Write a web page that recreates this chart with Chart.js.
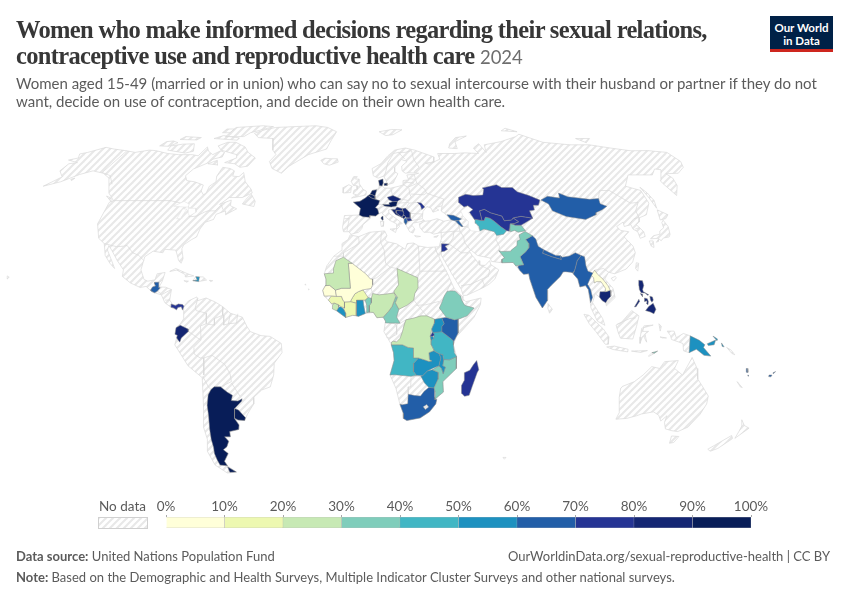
<!DOCTYPE html>
<html>
<head>
<meta charset="utf-8">
<script src="https://cdn.jsdelivr.net/npm/chart.js@4/dist/chart.umd.min.js"></script>
<style>
  html, body { margin: 0; padding: 0; background: #fff; }
  #page { position: relative; width: 850px; height: 600px; overflow: hidden; font-family: Lato, sans-serif; color: #5b5b5b; }
  #page > div { position: absolute; white-space: nowrap; }
  #map { position: absolute; left: 0; top: 0; }
  #legend { position: absolute; left: 146px; top: 490px; }
  .title { left: 16px; font: bold 24.5px "Liberation Serif", serif; letter-spacing: -0.67px; color: #373737; line-height: 28px; }
  .title span { font: 18.5px Lato, sans-serif; letter-spacing: 0; color: #6e6e6e; }
  .sub { left: 16px; font-size: 15px; line-height: 18px; color: #5b5b5b; }
  .foot { font-size: 13px; line-height: 16px; color: #5b5b5b; }
  #logo { left: 770px; top: 16px; width: 63px; height: 36px; background: #002147; border-bottom: 3px solid #ce261e; box-sizing: border-box; color: #fff; font-weight: bold; font-size: 11.5px; line-height: 13px; text-align: center; padding-top: 5px; }
  #noDataBox { left: 98px; top: 517px; width: 48px; height: 10px; border: 1px solid #d0d0d0; }
</style>
</head>
<body>
<div id="page">
  <canvas id="map" width="850" height="600"></canvas>
  <canvas id="legend" width="629" height="38"></canvas>
  <div class="title" style="top:16px">Women who make informed decisions regarding their sexual relations,</div>
  <div class="title" style="top:42px">contraceptive use and reproductive health care <span>2024</span></div>
  <div class="sub" style="top:74px">Women aged 15-49 (married or in union) who can say no to sexual intercourse with their husband or partner if they do not</div>
  <div class="sub" style="top:92px">want, decide on use of contraception, and decide on their own health care.</div>
  <div id="logo">Our World<br>in Data</div>
  <div class="foot" style="left:99px;top:498px;font-size:13.5px">No data</div>
  <div id="noDataBox"></div>
  <div class="foot" style="left:16px;top:548px"><b>Data source:</b> United Nations Population Fund</div>
  <div class="foot" style="right:20px;top:548px">OurWorldinData.org/sexual-reproductive-health | CC BY</div>
  <div class="foot" style="left:16px;top:569px"><b>Note:</b> Based on the Demographic and Health Surveys, Multiple Indicator Cluster Surveys and other national surveys.</div>
</div>
<script>
// colour scale
const binEdges = [0, 10, 20, 30, 40, 50, 60, 70, 80, 90, 100];
const binColors = ["#ffffd9", "#edf8b1", "#c7e9b4", "#7fcdbb", "#41b6c4", "#1d91c0", "#225ea8", "#253494", "#142673", "#081d58"];

// countries with a value
const countries = ["France", "Netherlands", "Belgium", "Denmark", "Czechia", "Austria", "Croatia", "Bosnia", "Serbia", "Montenegro", "Albania", "North Macedonia", "Moldova", "Georgia", "Armenia", "Jordan",
  "Kazakhstan", "Uzbekistan", "Kyrgyzstan", "Tajikistan", "Turkmenistan", "Pakistan", "India", "Nepal", "Bangladesh", "Myanmar", "Laos", "Cambodia", "Mongolia", "Philippines", "Papua New Guinea", "Timor-Leste", "Vanuatu", "Fiji",
  "Guatemala", "Panama", "Haiti", "Ecuador", "Argentina", "Uruguay",
  "Mauritania", "Mali", "Senegal", "Guinea", "Sierra Leone", "Liberia", "Cote d'Ivoire", "Burkina Faso", "Ghana", "Benin", "Nigeria", "Chad", "Cameroon", "Ethiopia", "Kenya", "Uganda", "Rwanda", "Burundi", "Tanzania", "DR Congo", "Angola", "Zambia", "Malawi", "Mozambique", "Zimbabwe", "South Africa", "Eswatini", "Madagascar"];
const shares = [95, 95, 95, 95, 88, 92, 85, 85, 85, 85, 65, 75, 75, 65, 65, 75,
  75, 75, 75, 35, 45, 35, 65, 65, 65, 65, 5, 85, 65, 85, 55, 35, 65, 65,
  65, 75, 55, 85, 95, 95,
  25, 5, 5, 15, 25, 55, 15, 15, 55, 35, 25, 25, 35, 35, 65, 55, 75, 55, 45, 25, 45, 55, 55, 35, 55, 65, 85, 75];

// outlines as [lon, lat] rings
const outlines = {
  "France": [[[-1.8,43.4],[-1.2,46],[-4.7,48.4],[-1.5,48.7],[1.5,50.2],[2.5,51],[4.2,50],[6,49.5],[8.2,49],[7.6,47.6],[6,46.3],[7,45.8],[7.6,44],[6,43],[3.2,43.2],[3.2,42.5],[0,42.7]], [[8.6,42.5],[9.5,43],[9.5,41.5],[9.2,41.4],[8.7,41.9]]],
  "Netherlands": [[[3.5,51.4],[4.7,53],[7,53.3],[6,50.8],[4.5,51.4]]],
  "Belgium": [[[2.5,51],[3.5,51.4],[4.5,51.4],[6,50.8],[6,49.5],[4.2,50]]],
  "Denmark": [[[8.2,57],[10.5,57.6],[10.5,56],[9.8,54.8],[8.5,55]], [[11,55.8],[12.5,56],[12.5,55],[11,55]]],
  "Czechia": [[[12.1,50.3],[15,51],[18.8,49.6],[17,48.7],[14.7,48.6],[12.8,49.3]]],
  "Austria": [[[9.6,47.5],[13,47.5],[12.8,48.2],[14.7,48.6],[17,48.7],[16.2,46.9],[13.7,46.5],[10.5,46.9]]],
  "Croatia": [[[13.7,45.5],[15.5,45.5],[16.5,46.5],[19,45.8],[19,45],[16,45.2],[15.8,44.2],[18.5,42.5],[15.5,43.6],[14.2,45]]],
  "Bosnia": [[[16,45.2],[19,45],[19.5,44],[18.5,42.5],[15.8,44.2]]],
  "Serbia": [[[19,45.8],[20.5,46.1],[22.5,44.3],[22.4,43],[22.4,42.3],[20.6,42.4],[19.5,43.5],[19.3,44.8]]],
  "Montenegro": [[[18.5,42.5],[19.5,43.5],[20.3,42.8],[19.3,42]]],
  "Albania": [[[19.4,41.8],[20.5,42.4],[20.8,40.8],[20,39.7],[19.4,40.5]]],
  "North Macedonia": [[[20.5,42.2],[22.4,42.3],[23,41.3],[20.9,41]]],
  "Moldova": [[[26.7,48.3],[28.5,48.1],[30,46.5],[28.3,45.5],[28,47]]],
  "Georgia": [[[40,43.5],[43,43.3],[46.5,41.9],[45,41.3],[43,41.2],[41.5,41.6]]],
  "Armenia": [[[43.5,41.1],[45,41.3],[46.5,39],[46,38.9],[44.8,39.7]]],
  "Jordan": [[[35,29.4],[35.5,32.4],[39,32.3],[37,31.5],[38,30.3],[36.5,29.6]]],
  "Kazakhstan": [[[46.7,48.5],[47.5,50.3],[51.5,51.5],[55,51],[60,51.2],[61.5,53.5],[61,54],[69,55.3],[71,54.2],[76.5,54.2],[78,52.5],[83,51],[87.3,49.2],[85.5,47.2],[83,47.2],[82.5,45.3],[80,45],[80.3,42.2],[75,42.9],[71,42.3],[70,41.5],[66.5,41.2],[66,43],[61,44.3],[58.5,45.6],[56,45],[56,41.3],[52.5,41.8],[51,44.5],[53,45.5],[51,47],[49,46.5]]],
  "Uzbekistan": [[[56,41.3],[56,45],[58.5,45.6],[61,44.3],[66,43],[66.5,41.2],[70,41.5],[71,42.3],[73,40.8],[71,40.2],[68.7,40],[68,38.2],[67.5,37.2],[66.3,37.4],[64,39],[61.5,41.2],[60,42.2],[58,42.6],[57,41.3]]],
  "Kyrgyzstan": [[[69.5,40],[71,40.2],[73,40.8],[71,42.3],[75,42.9],[80.3,42.2],[76,40.4],[73.7,39.5],[71,39.5]]],
  "Tajikistan": [[[68,38.2],[68.7,40],[71,40.2],[69.5,40],[71,39.5],[73.7,39.5],[75,37.4],[71.5,36.8],[70,37.5],[68,37]]],
  "Turkmenistan": [[[52.8,41.5],[53,42],[52.5,41.8],[56,41.3],[57,41.3],[58,42.6],[60,42.2],[61.5,41.2],[64,39],[66.3,37.4],[64.5,36],[61.2,35.6],[60.5,37],[56,38],[54,37.3],[53.9,39],[52.8,40.2]]],
  "Pakistan": [[[61.5,25.2],[66.5,25.3],[67.5,24],[69,24.2],[71,24.4],[70,27.5],[73,29.5],[74.7,31],[75,32.5],[74,34],[77.5,35.5],[74.8,37.1],[71.5,35.8],[71.5,34],[70,33.5],[69.5,31.7],[66.5,30],[66.3,29.6],[62,29.5],[60.9,29.8],[63,27],[61.7,26.5]]],
  "India": [[[69,22.3],[70.5,20.8],[72.8,21],[73,19],[75,12],[77.5,8],[80,11],[80.2,15],[82,16.5],[86.5,20],[88,21.7],[89,21.8],[92,21.5],[93,22],[94,24],[95,26],[97.3,28],[95,29],[92,27.8],[88.8,27.3],[88.1,27.9],[88.1,26.4],[84,27.5],[80.3,28.8],[81,30.2],[79,31.5],[78.7,34.2],[77.5,35.5],[74,34],[75,32.5],[74.7,31],[73,29.5],[70,27.5],[71,24.4],[69,24.2],[68.3,23.6]]],
  "Nepal": [[[80.3,28.8],[84,27.5],[88.1,26.4],[88.1,27.9],[86,28],[83,29.3],[81,30.2]]],
  "Bangladesh": [[[88.2,24.5],[89,22],[90.5,22.3],[92,21.5],[92.5,21],[92.3,24],[92,25],[89.8,25.3],[88.2,25.5]]],
  "Myanmar": [[[92.3,21],[94,19],[94.5,16],[97,16.5],[98,15],[98.5,10],[99.5,12],[99,15],[98,17],[100,20],[101,21.3],[99,22],[98.5,24],[98.7,27.5],[97.3,28],[95,26],[94,24],[93,22]]],
  "Laos": [[[100,20.5],[101,21.3],[102,22.4],[103,20.8],[105,19],[106.8,16.5],[107.5,14.7],[105.5,14.2],[105.5,15.5],[104,18],[102,18],[101,17.5],[101,19.5]]],
  "Cambodia": [[[102.5,12.2],[103,14.2],[105.5,14.2],[107.5,14.7],[107.5,12.5],[105.8,11],[105,10],[103.5,10.8]]],
  "Mongolia": [[[87.8,49.2],[92,50.7],[97.5,50],[98.5,52],[102,50.5],[107,50],[112,49.5],[116.7,49.8],[116,47.8],[118.5,46.8],[115.5,45.5],[111.5,44.3],[111,43.5],[105,41.7],[96.5,42.8],[91,45],[90.7,47.7]]],
  "Philippines": [[[120.3,16.5],[120.6,18.5],[122.2,18.4],[122.4,16.5],[121.6,15],[121.8,14.2],[124,13],[123.5,12.8],[122.5,13.7],[120.8,13.8],[120.2,15]], [[124.4,12.5],[125.5,12.2],[125.7,11],[125,10.2],[124.5,11]], [[122,11.8],[123.2,11.5],[123.5,10.5],[123.2,9.2],[122.5,9.8],[122.9,10.7],[122,10.5]], [[120.4,13.5],[121.4,13.2],[121.2,12.3]], [[122,7],[123.5,8.6],[125.5,9.8],[126.5,7.5],[125.5,5.8],[124,6.5]], [[117.3,8.4],[119.5,11.3],[119.7,10.5],[118,8.5]]],
  "Papua New Guinea": [[[141,-2.6],[145,-4.3],[147.5,-6],[147,-7],[150.5,-10.3],[147.5,-10],[144,-7.7],[141,-9]], [[148.5,-5.6],[152,-4.2],[151.5,-6],[149,-6.3]], [[150.8,-2.7],[152.8,-3.8],[152.6,-4.5]], [[154.6,-5.3],[155.9,-6.8],[155,-6.6]]],
  "Timor-Leste": [[[124.9,-9],[127.3,-8.4],[126,-9.2]]],
  "Vanuatu": [[[166.7,-15],[167.2,-15],[167.8,-16.5],[167,-16.4]], [[168,-17.5],[168.6,-17.7],[168.3,-18]]],
  "Fiji": [[[177.3,-17.5],[178.6,-17.5],[178.3,-18.2],[177.3,-18.1]], [[178.8,-16.6],[179.8,-16.2],[179,-17]]],
  "Guatemala": [[[-92.2,14.5],[-90.5,13.8],[-89.4,14.4],[-88.3,15.7],[-89.2,15.9],[-89.2,17.8],[-91,17.8],[-91,17.2],[-90.4,16.4],[-91.7,16],[-92.2,15]]],
  "Panama": [[[-83,8.3],[-82.9,9.5],[-81,8.9],[-79.8,9.5],[-78,9.3],[-77.4,8.7],[-77.9,7.2],[-78.5,8.5],[-80,8.2],[-80.5,7.3],[-81.7,8]]],
  "Haiti": [[[-74.4,18.4],[-71.8,18.1],[-71.7,19.8],[-73.3,19.9],[-72.7,19],[-72.5,18.6]]],
  "Ecuador": [[[-78.7,1.4],[-75.3,0],[-75.2,-0.9],[-78.3,-3.4],[-79,-5],[-80.3,-3.4],[-80,-2.4],[-81,-2],[-80.5,0.5]]],
  "Argentina": [[[-67,-23],[-65.5,-22],[-62.7,-22],[-60,-24],[-57.8,-25.2],[-58.6,-27.2],[-55.7,-27.4],[-53.7,-26.5],[-54,-27.4],[-57.6,-30.2],[-58.2,-32.4],[-58.4,-34],[-57,-36.5],[-57.6,-38.2],[-62,-39],[-62.3,-41],[-65,-41],[-63.7,-42.7],[-65.3,-44.8],[-67.5,-46],[-65.8,-47.5],[-69,-50.5],[-68.4,-52.3],[-72,-52],[-72.3,-50],[-72.5,-47.5],[-71.8,-45],[-71.7,-42],[-71,-38],[-70,-33],[-69.7,-29],[-68.5,-25]], [[-68.6,-52.7],[-65.2,-54.8],[-68.6,-54.9]]],
  "Uruguay": [[[-58.4,-33.9],[-58.2,-32.4],[-57.6,-30.2],[-56,-30.8],[-53.4,-33.7],[-54,-34.8],[-57,-34.6]]],
  "Mauritania": [[[-17,21],[-13,21.3],[-13,23],[-12,26],[-8.7,27.3],[-4.8,25],[-6.5,25],[-5.5,15.5],[-9.3,15.5],[-12,14.8],[-14.5,16.6],[-16.4,16.5],[-16.2,19]]],
  "Mali": [[[-5.5,15.5],[-6.5,25],[-4.8,25],[1.2,21],[3.3,19],[4.2,19],[4.2,16.8],[3.5,15.4],[0,14.9],[-2,14.2],[-3.5,13.4],[-4.5,12],[-5.5,10.4],[-8,10.3],[-8.7,11],[-9.3,12.4],[-11.5,12.4],[-12,14.8],[-9.3,15.5]]],
  "Senegal": [[[-17.5,14.7],[-16.4,16.5],[-14.5,16.6],[-12,14.8],[-11.5,12.4],[-13.7,12.6],[-16.8,12.5]]],
  "Guinea": [[[-15,11],[-13.7,12.6],[-11.5,12.4],[-9.3,12.4],[-8.7,11],[-8,10.3],[-8,8],[-9.5,8.5],[-10.7,9.3],[-12.5,9.9],[-13.5,9.5]]],
  "Sierra Leone": [[[-13.2,8.9],[-12.5,9.9],[-10.7,9.3],[-10.5,8.3],[-11.4,6.9],[-13,7.6]]],
  "Liberia": [[[-11.4,6.9],[-10.5,8.3],[-9.5,8.5],[-8.4,7.6],[-7.5,6],[-7.5,4.4]]],
  "Cote d'Ivoire": [[[-7.5,4.4],[-7.5,6],[-8.4,7.6],[-8,8],[-8,10.3],[-5.5,10.4],[-2.8,9.8],[-2.8,5.2],[-3,5.1],[-4.5,5.2]]],
  "Burkina Faso": [[[-5.5,10.4],[-4.5,12],[-3.5,13.4],[-2,14.2],[0,14.9],[2.2,12],[0.9,11],[-2.8,11],[-2.8,9.8]]],
  "Ghana": [[[-3,5.1],[-2.8,9.8],[-2.8,11],[0,11],[0.5,8],[1,5.9],[-2,4.8]]],
  "Benin": [[[0.9,11],[2.2,12],[3.6,11.7],[3.6,10],[2.8,9],[2.7,6.4],[1.6,6.2],[1.6,9]]],
  "Nigeria": [[[2.7,6.4],[2.8,9],[3.6,10],[3.6,11.7],[4.2,13.5],[7,13],[10,13.3],[13.6,13.7],[14.2,12.3],[12.5,8.5],[11,6.7],[8.7,4.5],[6,4.3],[4.5,6.3]]],
  "Chad": [[[15,23],[24,19.5],[24,15.7],[22.5,13.5],[22,11],[19,9],[15.5,7.5],[14,10],[15,12],[13.6,13.7],[13.5,14.5],[15.5,16.8]]],
  "Cameroon": [[[8.7,4.5],[11,6.7],[12.5,8.5],[14.2,12.3],[15,12],[14,10],[15.5,7.5],[14.5,4.5],[16,2.2],[9.8,2.3],[9.7,3]]],
  "Ethiopia": [[[36.5,14.3],[38,14.5],[40,14.5],[42.4,12.5],[42.7,11],[44,9],[48,8],[44.9,5],[42,4],[39.5,3.5],[36,4.4],[35,5.5],[33,8],[34.3,10.5],[35.2,12.5]]],
  "Kenya": [[[34,4.2],[36,4.4],[39.5,3.5],[41,3.9],[41,-1.5],[39.2,-4.7],[37.7,-3.5],[34,-1],[34,1],[35,2]]],
  "Uganda": [[[30,-1.4],[34,-1],[34,1],[35,2],[34,4.2],[31,3.7],[30.8,2.3],[29.6,0]]],
  "Rwanda": [[[29,-2.7],[30,-1.1],[30.8,-2.3],[29.9,-2.8]]],
  "Burundi": [[[29,-2.7],[29.9,-2.8],[30.7,-3.4],[29.4,-4.4]]],
  "Tanzania": [[[30,-1.2],[34,-1],[37.7,-3.5],[39.2,-4.7],[39,-6],[39.5,-9],[40.5,-10.5],[37.5,-11.7],[35,-11.6],[34.5,-9.7],[32.9,-9.4],[31,-8.5],[29.5,-6],[29.4,-4.4],[30.7,-3.4]]],
  "DR Congo": [[[12.2,-6],[12.3,-5],[13.1,-4.6],[14.5,-4.9],[16,-3.5],[17,-1],[17.7,1.5],[18.5,3.5],[22,4.2],[25,5],[27.5,5],[31,3.7],[30.8,2.3],[29.6,0],[29,-2.7],[29.4,-4.4],[29.5,-6],[30.7,-8.2],[28.5,-9],[28.8,-11.6],[29.8,-12.2],[28.5,-12.3],[26.9,-11.8],[24,-11],[22,-11],[21.8,-7.2],[19.5,-7],[17,-6]]],
  "Angola": [[[11.8,-17.5],[13.5,-12],[13.2,-9],[12.2,-6],[17,-6],[19.5,-7],[21.8,-7.2],[22,-11],[24,-11],[22,-13],[22,-16.2],[23.3,-17.6],[20.8,-18],[14,-17.4]]],
  "Zambia": [[[22,-13],[24,-11],[26.9,-11.8],[28.5,-12.3],[29.8,-12.2],[28.8,-11.6],[28.5,-9],[30.7,-8.2],[31,-8.5],[32.9,-9.4],[33.7,-11],[33.3,-12.5],[33,-14],[30.2,-15],[28,-16],[26,-17.8],[23.3,-17.6],[22,-16.2]]],
  "Malawi": [[[32.9,-9.4],[34.5,-9.7],[35,-11.6],[34.6,-14],[35.8,-14.5],[35,-17],[34.2,-15],[33,-14],[33.3,-12.5],[33.7,-11]]],
  "Mozambique": [[[40.5,-10.5],[40.6,-15],[35,-20],[35.5,-24],[32.8,-26],[32,-26.8],[32,-24.2],[31.3,-22.4],[32.9,-19],[32.9,-16.5],[30.2,-15.5],[33,-14],[34.2,-15],[35,-17],[35.8,-14.5],[34.6,-14],[35,-11.6],[37.5,-11.7]]],
  "Zimbabwe": [[[26,-17.8],[28,-16],[30.2,-15.5],[32.9,-16.5],[32.9,-19],[31.3,-22.4],[29,-22.2],[27,-20.5],[25.3,-18]]],
  "South Africa": [[[16.5,-28.6],[18.2,-32],[18.4,-34],[20,-34.8],[26,-33.8],[30,-31.5],[32.5,-28.5],[32.8,-26.8],[32,-26.8],[31.9,-25.5],[31.3,-22.4],[29,-22.2],[27,-23.7],[25.5,-25.5],[23,-25.3],[20,-24.8],[20,-28.4],[17.5,-28.8]]],
  "Eswatini": [[[31,-26],[32,-26],[32.1,-27],[31,-27.2]]],
  "Madagascar": [[[49.3,-12],[50.4,-15.5],[49.8,-16.5],[48,-22],[47,-25.2],[45,-25.6],[43.7,-24.5],[43.3,-21.5],[44.4,-19.5],[44.2,-16.6],[46.5,-15.7],[48,-13.5]]]
};

// land without data, hatched
const noDataLand = [
  // north america
  [[-168,65.6],[-164,66.5],[-166.5,68.3],[-163,69],[-156.5,71.3],[-150,70.5],[-141,69.7],[-135,69],[-128,70],[-124,69.8],[-115,68.5],[-108,68],[-100,68],[-96,67.5],[-95,71.5],[-92,69.5],[-88,68],[-85,69.7],[-82,69],[-81.5,67],[-86,66],[-87,64.5],[-93,61.8],[-94.8,59],[-92.5,57],[-88,56.5],[-82.5,55.2],[-82,52.8],[-80,51.3],[-79,52],[-79,54.7],[-76.8,56.5],[-78,58.8],[-77.5,62.5],[-73,62],[-70,61],[-69.5,58.8],[-66,58.6],[-64.5,60.3],[-61.5,56.5],[-57,53.5],[-55.8,52],[-60,50.2],[-66.5,50.2],[-70,47.5],[-65,49.2],[-64.5,47],[-61,45.8],[-65.5,43.5],[-66,45],[-70,43.7],[-70.5,41.7],[-74,40.6],[-75.5,38],[-76,35],[-78,34],[-81,32],[-81.4,30.5],[-80,26.8],[-80.5,25],[-81.8,26],[-82.8,28],[-84,30],[-89,30.3],[-89.5,29],[-94,29.6],[-97.2,27.5],[-97.8,22.5],[-95.8,18.8],[-94,18.2],[-91,18.7],[-90.4,21],[-87,21.5],[-87.7,18.2],[-88.8,16],[-86,15.9],[-83.3,15],[-83.7,11],[-82,9],[-79.8,9.5],[-77.4,8.7],[-77.9,7.2],[-78.5,8.5],[-80,8.5],[-80.5,7.3],[-83,8.3],[-85.7,10],[-87.5,13],[-91.5,14],[-94.5,16.2],[-97,15.8],[-101.5,17.5],[-105.5,20],[-105.5,22.5],[-109,26],[-112.7,30],[-114.7,31.7],[-114.6,30],[-111.5,26],[-109.5,23],[-112,25],[-115,28],[-117.1,32.5],[-120.5,34.5],[-124,40],[-124.5,48.3],[-123,49],[-128,52],[-131,55],[-134.5,58],[-140,60],[-147,61],[-152,59.5],[-158,56.5],[-164.5,54.7],[-160,58.5],[-165,61],[-165,64],[-161,64.5]],
  [[-73,78.2],[-68,76],[-58,75.5],[-54,70],[-51,68],[-53,65],[-50,62],[-44,60],[-41,63],[-32,68],[-22,70.5],[-20,75],[-18,79],[-25,81.5],[-34,82.6],[-50,82],[-62,81.5],[-68,80]],
  [[-80,73.7],[-72,71.5],[-68,69],[-62,66.5],[-64,63],[-68,62.5],[-72,64],[-78,64.5],[-73,66.5],[-74,68],[-85,70],[-89,72],[-85,73.7]],
  [[-117,70],[-105,68.7],[-101,69.5],[-105,73],[-112,72.8],[-118,72]],
  [[-125,72],[-119,71.8],[-116,73.5],[-120,74.3],[-124,74]],
  [[-90,76.5],[-78,76.5],[-76,78.5],[-64,82],[-72,82.6],[-90,81.5]],
  [[-96,75.5],[-80,74.7],[-80,75.8],[-92,77]],
  [[-117,75],[-106,74.8],[-105,76],[-116,76.5]],
  [[-95,78.5],[-88,78.5],[-88,80.5],[-95,80.5]],
  [[-87,64],[-81,63.5],[-83,65.5]],
  [[-59,47.7],[-53,46.7],[-53,48.7],[-56,51.5],[-57.5,50]],
  [[-128,50.8],[-123.5,48.4],[-125,50]],
  [[-154,57.5],[-152.5,58],[-153,57]],
  [[-85,21.9],[-82.5,23],[-77,21],[-74.2,20.2],[-77.7,19.8],[-78,20.7],[-82,22.4]],
  [[-74.4,18.4],[-73.3,19.9],[-70,19.8],[-68.4,18.6],[-71,18.2],[-71.8,18]],
  [[-78.3,18.4],[-76.3,18.2],[-77,17.8]],
  [[-67.2,18.5],[-65.7,18.4],[-66.5,18]],
  [[-156,20.2],[-155,19.7],[-155.8,19]],
  // south america
  [[-77.4,8.7],[-75.5,10.7],[-72,12.2],[-71.5,10.8],[-68,11.8],[-64,10.3],[-60.8,8.6],[-57.2,6],[-52,4.5],[-50,1],[-48.5,-1],[-44,-2.5],[-40,-2.8],[-35.2,-5.5],[-35,-9],[-38.5,-13],[-39,-17.5],[-40.8,-22],[-44.7,-23.2],[-48.5,-26],[-48.8,-28.5],[-52.2,-32.3],[-54,-34.8],[-57,-34.6],[-58.3,-34],[-57,-36.5],[-57.6,-38.2],[-62,-39],[-62.3,-41],[-65,-41],[-63.7,-42.7],[-65.3,-44.8],[-67.5,-46],[-65.8,-47.5],[-69,-50.5],[-68.3,-52.5],[-65.2,-54.8],[-70,-55.2],[-74.5,-52],[-75.5,-46.7],[-73.5,-42],[-73.6,-37.2],[-71.5,-30],[-70.3,-18.5],[-76,-14],[-81.2,-6],[-80,-2.5],[-80.5,0.5],[-78.7,2],[-77.2,4],[-77.5,7]],
  // africa
  [[-5.9,35.8],[-2,35.1],[3,36.8],[10,37.3],[11,35.5],[10,34],[11,33.2],[15.2,32.4],[19,30.3],[20,32.5],[23,32.7],[25,31.6],[29,31],[32.4,31.2],[32.6,30],[33.6,28],[35.5,24],[37.2,21],[38.5,18],[39.8,15.2],[43,12.5],[43.3,11.5],[44.5,10.4],[51.2,11.8],[50.8,9.3],[47.9,4.5],[42.5,-0.8],[40.2,-3],[39,-6],[40.5,-10.5],[40.6,-15],[35,-20],[35.5,-24],[32.8,-26],[32.5,-28.5],[30,-31.5],[26,-33.8],[20,-34.8],[18.4,-34],[18.2,-32],[16.5,-28.6],[14.5,-22.5],[11.8,-17.5],[13.5,-12],[13.2,-9],[12,-5.5],[9,-1],[9.7,3],[8.7,4.5],[6,4.3],[4.5,6.3],[1,5.9],[-2,4.8],[-4.5,5.2],[-7.5,4.4],[-11.4,6.9],[-13.5,9.5],[-15,11],[-16.8,12.5],[-17.5,14.7],[-16.4,16.5],[-16.2,19],[-17,21],[-16,24],[-13,27.7],[-9.8,29.8],[-9.5,32.5],[-6.8,34]],
  // eurasia
  [[-9,37],[-9.5,38.7],[-8.8,43.2],[-1.8,43.4],[-1.2,46],[-4.7,48.4],[-1.5,48.7],[1.5,50.2],[3.5,51.4],[4.7,53],[8,53.7],[8.5,55.5],[8.2,57],[10.5,57.6],[10.5,56],[9.8,54.8],[11,54],[14,53.9],[18.5,54.7],[21,55.3],[21,57],[24,57.3],[23.5,59.3],[28,59.6],[30,60],[25,60.2],[22.8,60],[21.3,61],[21.5,63],[25,65],[22,65.8],[17.5,62.5],[17.2,60.7],[18.8,59.8],[16.5,57],[15.8,56],[13,55.4],[11,58.8],[8,58],[5.5,59],[5,62],[10,64],[14.5,67.5],[19,70],[25.7,71],[31,70],[41,67],[40,64.7],[35,64.3],[37,63.8],[44,66],[44,68.5],[54,68.5],[60,68.8],[68,68.5],[67,71],[72,73],[73,69],[75,72.5],[87,74],[100,76.5],[104,77.7],[113,73.7],[128,72.5],[140,72.5],[150,71],[160,69.7],[170,69.8],[180,69],[180,65],[177,62.5],[170,60],[163,59.8],[164,58],[162,55],[156.8,51],[155.7,56],[156,57],[163,61.5],[160,61.8],[155,59.3],[142,59.3],[135,54.7],[141,53],[140,48],[135,43.5],[130.7,42.3],[129.5,40.7],[127.5,39.7],[129.4,37],[129,35.2],[126.4,34.5],[126.6,37],[125,38],[125,39.7],[121.5,39],[122,40.7],[118,39],[119,37.5],[122.5,37],[119.3,35],[121.8,31.5],[121.8,29],[119.5,25.5],[116,22.8],[110.5,21],[108,21.6],[105.8,19],[108.8,15.5],[109.3,12],[105.2,8.8],[105,10],[102.5,12.2],[100.8,13.4],[99.3,10],[103.3,4],[104.2,1.4],[101,3],[98.5,8],[98,15],[97,16.5],[94.5,16],[94,19],[92,21.5],[90.5,22.3],[88,21.7],[86.5,20],[82,16.5],[80.2,15],[80,11],[77.5,8],[75,12],[73,19],[72.8,21],[70.5,20.8],[69,22.3],[67.5,24],[66.5,25.3],[61.5,25.2],[57,25.7],[56.5,27],[51,28],[48.5,30],[47.7,29.5],[48.7,28],[50,26.5],[51,25],[51.5,26],[51.6,24.3],[54,24.2],[56.2,26],[56.5,24.5],[59.8,22.5],[57.7,19],[55,17],[52,15.6],[45,12.8],[43.4,12.8],[42.8,15],[39,21],[35,28],[34.9,29.5],[34.3,28],[33.2,28.5],[32.6,30],[32.4,31.2],[34.3,31.3],[35.8,34.5],[36,36.7],[32.5,36.1],[30.6,36.8],[28,36.8],[26.5,38.5],[26.3,40],[29,41],[31.5,41.2],[35,42],[38,41],[41.5,41.6],[39,44],[37.5,45],[38.5,47],[35,46.2],[36.5,45.3],[33.5,44.5],[33,46],[31,46.7],[28.8,44.8],[28,42],[29,41.2],[26.2,40.7],[23.5,40.3],[22.8,39.5],[24,38],[23,36.5],[21.5,37],[19.5,40.5],[19.5,42],[15.5,44],[13.8,45.2],[13.7,45.7],[12.3,45.3],[12.5,44],[16,41.8],[18.4,40.1],[16.7,39.8],[17,39],[15.7,38],[15.7,40],[12.5,41.4],[10.3,43],[8.8,44.4],[6,43],[3.2,43.2],[3.2,41.9],[0,39.7],[-0.5,38.3],[-2,36.8],[-5.5,36],[-6.5,37]],
  // islands
  [[-5.7,50],[1.5,51.2],[1.7,52.7],[0,53.5],[-1.7,55.5],[-2,57.6],[-4,57.6],[-3,58.6],[-5,58.6],[-6.2,56.7],[-5,55],[-3,54.9],[-3,53.5],[-4.5,53.2],[-5,51.7],[-3.2,51.3]],
  [[-10,52],[-6.2,52.2],[-6,54],[-5.5,54.6],[-7.3,55.3],[-10,54.2]],
  [[-24,65.5],[-22,64],[-18.7,63.4],[-14,64.7],[-14.7,66.2],[-18,66.2],[-22,66.4]],
  [[11,79],[20,80.2],[27,80],[20,77.5],[15,77]],
  [[52,71],[57,70.7],[58,74],[68,76.8],[60,76],[54,73]],
  [[95,79.5],[105,79],[100,81]],
  [[137,75.5],[146,75.5],[140,73.5]],
  [[142,54.3],[143.2,52],[143.5,49],[142,46],[142,50]],
  [[131,34.3],[133,35.5],[136,36],[137,37.3],[139.5,38.5],[140,40.5],[141.3,41.4],[141.9,39],[140.9,36],[139.8,35],[137,34.6],[135.5,33.6],[134.5,34.5]],
  [[140,41.5],[141.7,45.4],[145.3,43.5],[143,42]],
  [[130,33.5],[131.8,33.5],[131,31],[130,31.5]],
  [[133,33],[134.5,34],[134,33.3]],
  [[120.2,23],[121,25.2],[122,25],[120.9,22]],
  [[108.7,19.3],[110.5,20],[111,19.5],[109.5,18.2]],
  [[79.8,8],[80,9.7],[81.8,7.5],[80.5,6]],
  [[95.3,5.6],[97.5,5.2],[103.5,0],[106,-3],[105.8,-5.8],[104.5,-5.8],[100.3,-1],[97.5,2]],
  [[105.2,-6.8],[108.5,-6.5],[114.5,-7.7],[114.4,-8.7],[108,-7.8]],
  [[109,1.5],[111.3,2.5],[116,7],[119,5],[117.8,1],[116.3,-3.8],[111,-3.5],[110,-1.5]],
  [[119.5,-5.5],[120.4,-3],[120.9,-2.7],[122.3,-5],[121.5,-1.9],[123,-0.9],[120.5,-0.9],[121,1.2],[125,1.5],[120,0.3],[119.5,-3]],
  [[131,-0.8],[134,-0.8],[135,-3.3],[138,-1.7],[141,-2.6],[141,-9],[138.5,-8.3],[138,-5.5],[133,-4],[132.5,-2.5]],
  [[116,-8.4],[119,-8.3],[122.9,-8.2],[120,-8.9]],
  [[123.5,-10.3],[124.9,-9],[126,-9.2],[124,-10.3]],
  [[127.5,2],[128.5,1],[128,-0.8]],
  [[128,-3],[130.8,-3.4],[129,-3.4]],
  [[157,-7],[159,-8],[160.8,-9.8],[159.5,-9.3]],
  [[164,-20],[167,-22.3],[166,-22]],
  [[113.5,-22.5],[114.2,-21.8],[119,-20],[122.3,-17.5],[125.5,-14.3],[129,-15],[130.8,-12.4],[136.7,-12],[135.5,-15],[139.5,-17.5],[141.5,-13],[142.5,-10.8],[145.3,-15],[146.5,-19],[149.5,-22],[153,-25.5],[153.5,-28.5],[152.5,-32.5],[150,-37.3],[146.4,-39],[143.5,-38.7],[140,-38],[138,-35.5],[137.8,-33],[136,-35],[134,-32.8],[131,-31.5],[126,-32.3],[124,-33],[120,-34],[115.2,-34.3],[115.7,-31.7],[113.7,-26]],
  [[144.7,-40.7],[148.3,-40.9],[147.8,-43.2],[146,-43.5]],
  [[172.7,-34.5],[175.5,-36.7],[178.5,-37.7],[175.3,-41.6],[174.8,-39],[174.5,-36.9]],
  [[172.7,-40.5],[174.3,-41.7],[171,-45.5],[168.5,-46.6],[166.5,-45.8]],
  [[12.5,38],[15.6,38.2],[15,36.7]],
  [[8.2,41],[9.8,41],[9.5,39.1],[8.5,39]],
  [[23.6,35.5],[26.3,35.2],[24.5,35]],
  [[32.3,35],[34.5,35.6],[33.7,34.9]],
  [[69,-49],[70.5,-49],[70,-49.7]],
  [[-25.2,17.1],[-24.8,16.8],[-25.3,16.8]],
  [[-23.7,15.3],[-23.4,15],[-23.7,14.9]]
];

// lesotho sits inside south africa with no data
const noDataOnTop = [[[27,-29.6],[28.5,-28.7],[29.4,-29.7],[28,-30.6]]];

const lakes = [
  [[-92,46.8],[-88,48.7],[-85,47.7],[-84.7,46.5],[-87,46.5]],
  [[-88,42],[-87,45.8],[-85,45.7],[-86.3,42]],
  [[-84.5,46],[-81,46],[-80,44.5],[-82.4,43],[-83.5,44]],
  [[47,45],[51,47],[53,45.5],[51,44.5],[50.3,44.3],[52.8,41.5],[53.9,37],[50,37.3],[49,38.5],[49.5,41],[47.5,43]]
];

const borders = [
  [[-141,69.7],[-141,60.3],[-135,59],[-130,55.5]],
  [[-123,49],[-95,49],[-89,48],[-84.5,46.5],[-82.5,45],[-82.5,42.7],[-79,43],[-76,44.5],[-74.5,45],[-71,45],[-69,47.3],[-67.5,45.5]],
  [[-117.1,32.5],[-111,31.3],[-108,31.5],[-106.5,31.8],[-103,29],[-100,28],[-97.2,26]],
  [[-89.2,17.8],[-88,18.5]], [[-89.2,15.9],[-89.2,17.8]], [[-87.5,13],[-85.5,14],[-83.3,15]], [[-89.4,14.4],[-87.8,13.5]], [[-85.7,11],[-83.7,11]],
  [[-71.5,11.8],[-72.5,8],[-72,7],[-67.5,6],[-67.5,2],[-70,1.2]], [[-60.8,8.5],[-60.5,5.2]], [[-60.5,5.2],[-64,4],[-64,1.5],[-67,1.8]], [[-57.2,6],[-58,2]], [[-54,5.8],[-54.5,2.3]], [[-60,5.2],[-60,1.5],[-58,2],[-54.5,2.3],[-51.7,4]], [[-70,1.2],[-69.8,-4.2]], [[-75.2,-0.9],[-70,-4.2]], [[-69.8,-4.2],[-73,-7],[-73,-9.5],[-70.5,-11],[-69,-11]], [[-69,-11],[-69.5,-17.5]], [[-70,-18],[-68,-22],[-67,-23]], [[-69,-11],[-65.3,-10],[-60,-13.5],[-58,-17],[-57.7,-20]], [[-57.7,-20],[-62.6,-22]], [[-57.7,-20.5],[-55.5,-24],[-54.5,-25.5]],
  [[-2,35.1],[-1.7,32.5],[-8.7,29],[-8.7,27.3]], [[-13,27.7],[-8.7,27.7]], [[8.5,37],[8,33],[9.5,30]], [[9.5,30],[10,25],[12,23.5]], [[12,23.5],[6,19.5],[4.2,19]], [[12,23.5],[15,23]], [[25,31.6],[25,22]], [[25,22],[24,19.5]], [[25,22],[36.9,22]], [[23,9],[27,9.2],[33,10.5]], [[36.5,14.3],[38.5,18]], [[22,11],[24,8.7],[27.5,5]], [[11.3,2.2],[13,2.2],[14.4,1.5],[14.5,-2],[11.5,-3.5],[10,-3]], [[16,2.2],[18.5,3.5]], [[42.7,11],[43.3,11.5]], [[42,4],[41,3.9]], [[20.8,-18],[21,-18],[21,-22],[20,-22],[20,-24.8]], [[21,-18],[25.3,-18]], [[0,11],[0.9,11]], [[1,5.9],[0.5,8]], [[4.2,13.5],[3.5,15.4]], [[15,12],[13.6,13.7]],
  [[-8.8,42],[-6.5,42],[-7,39.5],[-7.4,37.2]], [[14.2,53.9],[14.8,51],[15,51]], [[7.6,47.6],[9.6,47.5]], [[7,45.8],[10.5,46.9],[12.5,47],[13.7,46.5]], [[18.8,49.6],[22.5,49]], [[23.5,54],[23.5,51.5],[24,50.5],[22.5,49]], [[21,55.3],[23,54.3],[27,55.5],[28,56],[27.7,57.5],[27.5,59.4]], [[21,56.4],[26.5,56]], [[24.3,57.8],[27.5,57.5]], [[28,56],[31.5,53.5],[32,52],[30.5,51.3],[24,51.6]], [[32,52],[35,51],[40,49.6],[38.5,47]], [[22.5,48],[21,46.2],[20.5,46.1]], [[17,48],[22.5,48.3]], [[22.5,48],[26.7,48.3]], [[22.5,44],[28.5,43.8]], [[23,41.3],[26.3,41.7],[28,42]], [[11.5,59],[12.5,61],[14,64.5],[18,68.5],[21,69],[25,69],[29,69.8]], [[24,66],[21,69]], [[27.5,60.5],[31,62.5],[29,66],[29,69.8]],
  [[36,36.7],[42,37.2]], [[42,37.2],[44.8,37.2],[44.5,39.7],[43.5,41.1]], [[46.5,41.9],[48.5,41.8]], [[45,39],[48,39],[49,38.5]], [[44.8,37.2],[46,35],[46,33],[48,30.3]], [[42,37.2],[41,34.5],[39,32.3]], [[35.5,33.3],[36.2,33]], [[39,32.3],[44,29],[47,29]], [[42.8,16.5],[47,17],[52,19],[55,20],[55.8,22.5],[52,24.2]], [[52,15.6],[53,16.6],[52,19]],
  [[60.9,29.8],[61.5,31.3],[60.5,34],[61.2,35.6]], [[61.7,26.5],[63,27],[60.9,29.8]],
  [[116.7,49.8],[120,53],[125,53],[131,48],[135,48.3],[131,45],[130.7,42.3]], [[130.7,42.5],[128,42],[124.5,40]], [[126,38],[128.4,38.6]], [[102,22.4],[106,23],[108,21.6]], [[100.2,6.5],[102,6]], [[109.5,1.8],[115,4],[117.5,4.2]]
];

// Robinson projection table, every 5 degrees of latitude
const robinsonA = [1, .9986, .9954, .99, .9822, .973, .96, .9427, .9216, .8962, .8679, .835, .7986, .7597, .7186, .6732, .6213, .5722, .5322];
const robinsonB = [0, .062, .124, .186, .248, .31, .372, .434, .4958, .5571, .6176, .6769, .7346, .7903, .8435, .8936, .9394, .9761, 1];

function project(p) {
  const abs = Math.min(Math.abs(p[1]), 89.9);
  const i = Math.floor(abs / 5);
  const t = abs / 5 - i;
  const a = robinsonA[i] + (robinsonA[i + 1] - robinsonA[i]) * t;
  const b = robinsonB[i] + (robinsonB[i + 1] - robinsonB[i]) * t;
  return { x: 0.8487 * a * p[0] * Math.PI / 180, y: 1.3523 * b * Math.sign(p[1]) };
}

function colorFor(value) {
  let i = binEdges.findIndex((e, k) => value >= e && value < binEdges[k + 1]);
  return binColors[i];
}

function hatch() {
  const c = document.createElement("canvas");
  c.width = 7; c.height = 7;
  const g = c.getContext("2d");
  g.fillStyle = "#fff";
  g.fillRect(0, 0, 7, 7);
  g.strokeStyle = "#e8e8e8";
  g.lineWidth = 2;
  [[-3.5, 3.5, 3.5, -3.5], [0, 7, 7, 0], [3.5, 10.5, 10.5, 3.5]].forEach(l => {
    g.beginPath(); g.moveTo(l[0], l[1]); g.lineTo(l[2], l[3]); g.stroke();
  });
  return c;
}

const ctx = document.getElementById("map").getContext("2d");
const hatchPattern = ctx.createPattern(hatch(), "repeat");
document.getElementById("noDataBox").style.background = "url(" + hatch().toDataURL() + ")";

function ring(points, fillColor, lineColor, lineWidth, closed) {
  const pts = points.map(project);
  if (closed) pts.push(pts[0]);
  return {
    data: pts,
    showLine: true,
    pointRadius: 0,
    borderWidth: lineWidth,
    borderColor: lineColor,
    backgroundColor: fillColor,
    fill: closed ? "shape" : false,
    tension: 0
  };
}

// chart.js paints the first dataset last, so top layers go first
const layers = [];
noDataOnTop.forEach(r => layers.push(ring(r, hatchPattern, "#999", 0.5, true)));
countries.forEach((name, i) => {
  outlines[name].forEach(r => layers.push(ring(r, colorFor(shares[i]), "#8a8a8a", 0.5, true)));
});
lakes.forEach(r => layers.push(ring(r, "#fff", "#dedede", 0.5, true)));
borders.forEach(r => layers.push(ring(r, "transparent", "#dadada", 0.7, false)));
noDataLand.forEach(r => layers.push(ring(r, hatchPattern, "#dadada", 0.7, true)));

new Chart(ctx, {
  type: "scatter",
  data: { datasets: layers },
  options: {
    responsive: false,
    animation: false,
    events: [],
    parsing: false,
    layout: { padding: 0 },
    plugins: { legend: { display: false }, tooltip: { enabled: false }, title: { display: false } },
    scales: {
      x: { type: "linear", display: false, min: -2.315, max: 3.106 },
      y: { type: "linear", display: false, min: -1.728, max: 2.098 }
    }
  }
});

// legend bar
new Chart(document.getElementById("legend"), {
  type: "bar",
  data: {
    labels: ["share"],
    datasets: binColors.map((c, i) => ({
      data: [binEdges[i + 1] - binEdges[i]],
      backgroundColor: c,
      borderColor: "#a8a8a8",
      borderWidth: 0.5,
      barPercentage: 1,
      categoryPercentage: 1,
      stack: "bins"
    }))
  },
  options: {
    indexAxis: "y",
    responsive: false,
    animation: false,
    events: [],
    layout: { padding: { left: 20, right: 24 } },
    plugins: { legend: { display: false }, tooltip: { enabled: false } },
    scales: {
      x: {
        position: "top",
        stacked: true,
        min: 0,
        max: 100,
        // layout caps an axis at half the canvas, which clipped the labels
        afterFit: scale => { scale.height = 27; },
        border: { display: false },
        grid: { drawOnChartArea: false, tickLength: 2, color: "#a8a8a8" },
        ticks: { stepSize: 10, maxRotation: 0, autoSkip: false, padding: 0, color: "#5b5b5b", font: { family: "Lato", size: 13.5 }, callback: v => v + "%" }
      },
      y: { stacked: true, display: false }
    }
  }
});
</script>
</body>
</html>
